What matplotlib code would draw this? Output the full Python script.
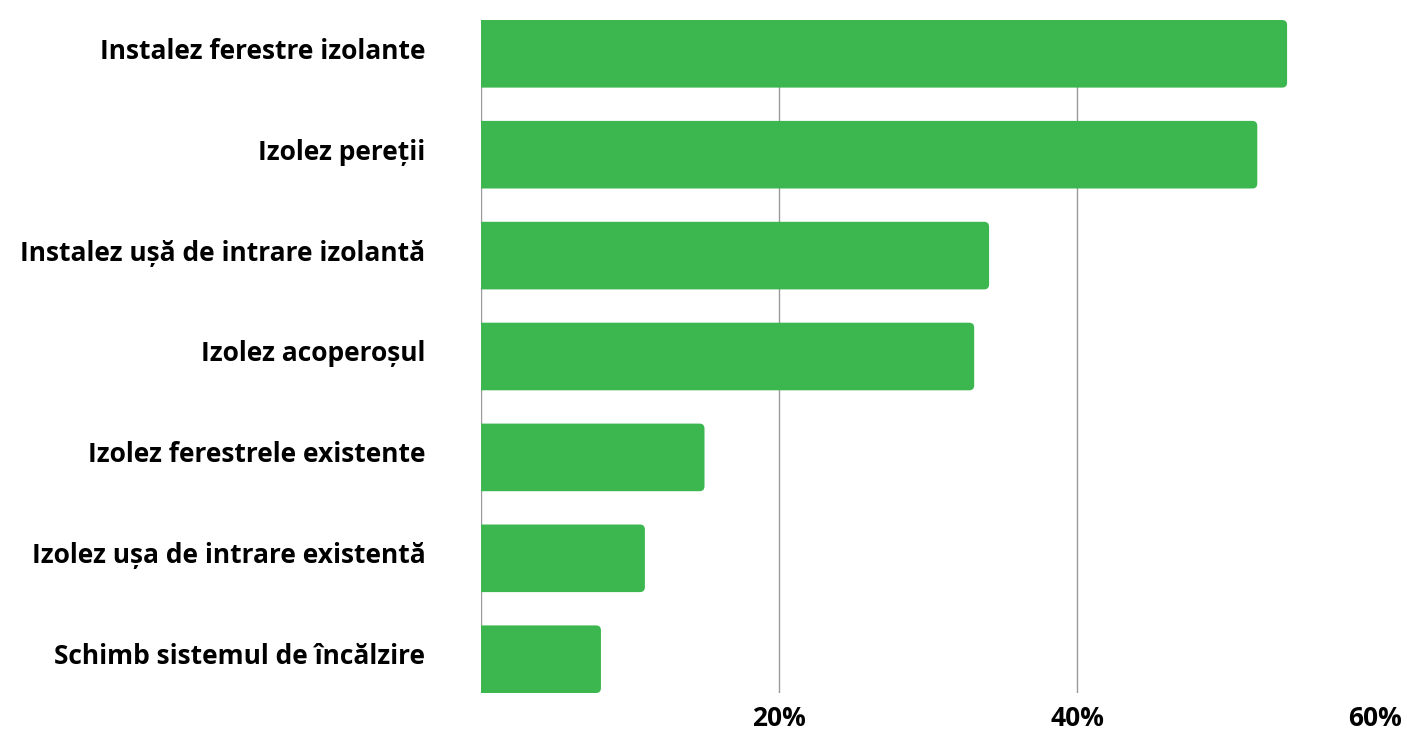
import matplotlib.pyplot as plt
import matplotlib.transforms as mtransforms
from matplotlib.patches import FancyBboxPatch

plt.rcParams["font.family"] = ["Open Sans", "DejaVu Sans"]
plt.rcParams["font.weight"] = "bold"

categories = [
    "Instalez ferestre izolante",
    "Izolez pereții",
    "Instalez ușă de intrare izolantă",
    "Izolez acoperoșul",
    "Izolez ferestrele existente",
    "Izolez ușa de intrare existentă",
    "Schimb sistemul de încălzire",
]
values = [54.1, 52.1, 34.1, 33.1, 15.0, 11.0, 8.05]
xticks = [20, 40, 60]
xtick_labels = ["20%", "40%", "60%"]

green = "#3cb750"
bar_h = 0.67

fig = plt.figure(figsize=(14.07, 7.33), dpi=100)
ax = fig.add_axes([481 / 1407, 40 / 733, (1375 - 481) / 1407, (693 - 20) / 733])

ypos = list(range(len(categories)))
bars = ax.barh(ypos, values, height=bar_h, color=green)

ax.set_xlim(0, 60)
ax.set_ylim(6.335, -0.335)

# rounded right corners; left side pushed past x=0 and clipped by the axes
px_x = (1375 - 481) / 60
px_y = 673 / 6.67
rx = 5 / px_x
for b in bars:
    x0, y0 = b.get_x(), b.get_y()
    w, h = b.get_width(), b.get_height()
    b.set_visible(False)
    ax.add_patch(FancyBboxPatch((x0 - 2 * rx, y0), w + 2 * rx, h,
                                boxstyle=f"round,pad=0,rounding_size={rx}",
                                mutation_aspect=px_x / px_y,
                                facecolor=green, edgecolor="none", zorder=3))

for xv in [0, 20, 40]:
    ax.axvline(xv, color="#9a9a9a", linewidth=1, zorder=1)

for s in ax.spines.values():
    s.set_visible(False)

ax.set_yticks(ypos)
ax.set_yticklabels(categories, fontsize=19, fontweight="bold")
ax.set_xticks(xticks)
ax.set_xticklabels(xtick_labels, fontsize=19, fontweight="bold")
ax.tick_params(axis="y", length=0, pad=40)
ax.tick_params(axis="x", length=0, pad=9)

# nudge category labels up a little
shift = mtransforms.ScaledTranslation(0, 4 / 72, fig.dpi_scale_trans)
for t in ax.get_yticklabels():
    t.set_transform(t.get_transform() + shift)

fig.savefig("out.png", dpi=100)
